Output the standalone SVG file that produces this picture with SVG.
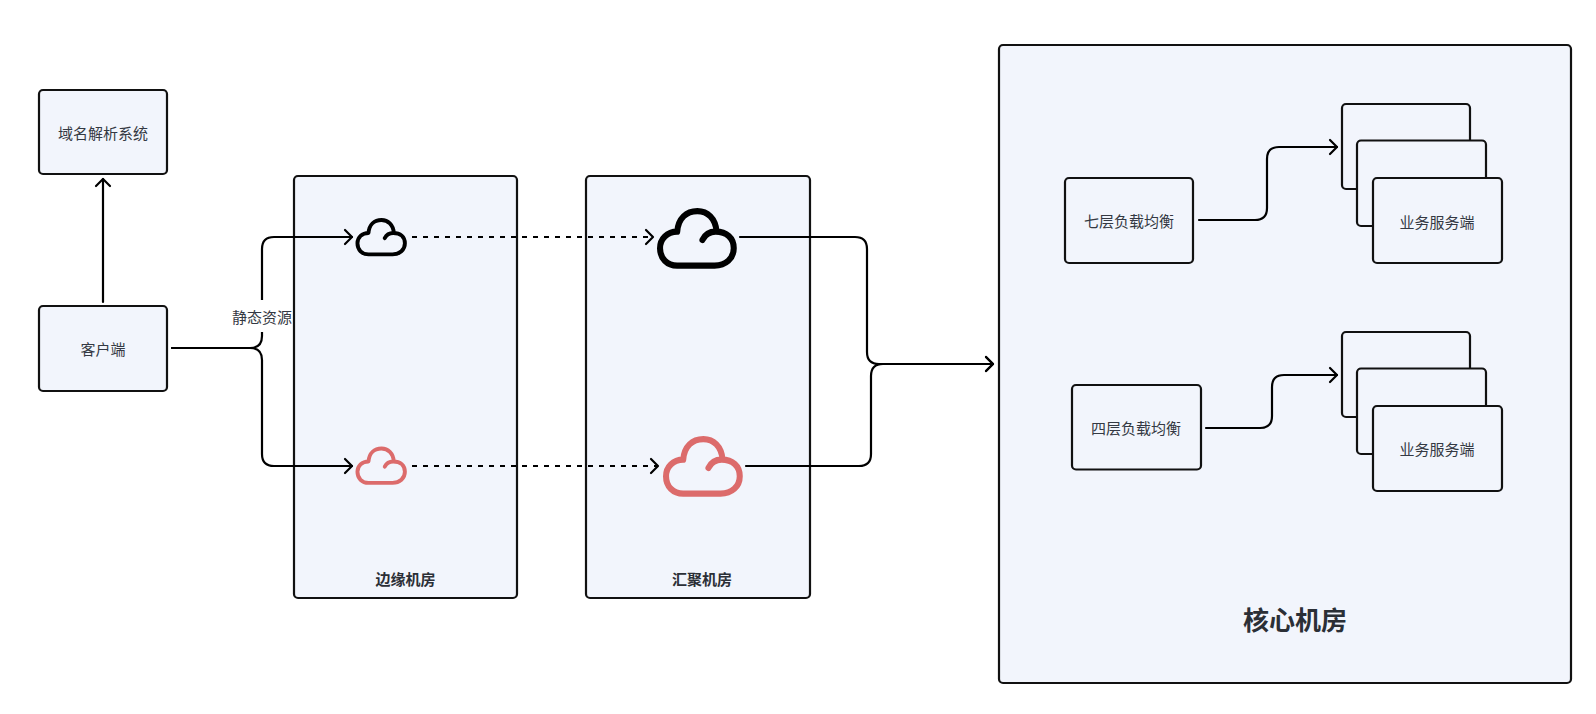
<svg xmlns="http://www.w3.org/2000/svg" width="1596" height="714" viewBox="0 0 1596 714">
<style>
.box{fill:#f2f5fc;stroke:#111;stroke-width:2.2}
text{font-family:"Noto Sans CJK SC","Noto Sans",sans-serif;font-size:15px;fill:#343943;text-anchor:middle;dominant-baseline:central}
.b{font-weight:700;fill:#2b2f36}
.c{fill:none;stroke:#000;stroke-width:2.2;stroke-linecap:round;stroke-linejoin:round}
.d{stroke-dasharray:5 6;stroke-linecap:butt}
.cloud{fill:none;stroke-width:6;stroke-linecap:round;stroke-linejoin:round}
</style>
<defs>
<marker id="a" markerUnits="userSpaceOnUse" markerWidth="16" markerHeight="18" refX="12" refY="9" orient="auto"><path d="M5 2 L12 9 L5 16" fill="none" stroke="#000" stroke-width="2.2" stroke-linecap="round" stroke-linejoin="round"/></marker>
<path id="cl" d="M45 31 C48 25 53 23 58 23 C69 23 76 29 76 39 C76 49 68 56 57 56 L20 56 C10 56 3 49 3 39 C3 30 10 23 20 23 C21 10 29 3 40 3 C50 3 58 10 59 23"/>
</defs>
<rect width="1596" height="714" fill="#fff"/>
<g id="core-room"><rect class="box" x="999" y="45" width="572" height="638" rx="4"/><text class="b" x="1295" y="618" style="font-size:26px">核心机房</text></g>
<g id="edge-room"><rect class="box" x="294" y="176" width="223" height="422" rx="4"/><text class="b" x="405.500" y="578">边缘机房</text></g>
<g id="agg-room"><rect class="box" x="586" y="176" width="224" height="422" rx="4"/><text class="b" x="702" y="578">汇聚机房</text></g>
<g id="dns"><rect class="box" x="39" y="90" width="128" height="84" rx="4"/><text x="103" y="132">域名解析系统</text></g>
<g id="client"><rect class="box" x="39" y="306" width="128" height="85" rx="4"/><text x="103" y="348">客户端</text></g>
<g id="l7"><rect class="box" x="1065" y="178" width="128" height="85" rx="4"/><text x="1129" y="220">七层负载均衡</text></g>
<g id="l4"><rect class="box" x="1072" y="385" width="129" height="84.500" rx="4"/><text x="1136" y="427">四层负载均衡</text></g>
<g id="servers-top"><rect class="box" x="1342" y="104" width="128" height="85" rx="4"/><rect class="box" x="1357" y="140.500" width="129" height="85.500" rx="4"/><rect class="box" x="1373" y="178" width="129" height="85" rx="4"/><text x="1437" y="221">业务服务端</text></g>
<g id="servers-bottom"><rect class="box" x="1342" y="332" width="128" height="85" rx="4"/><rect class="box" x="1357" y="368.500" width="129" height="85.500" rx="4"/><rect class="box" x="1373" y="406" width="129" height="85" rx="4"/><text x="1437" y="448">业务服务端</text></g>
<g id="cloud-edge-black"><use href="#cl" class="cloud" stroke="#000" transform="translate(355.500 218) scale(.65)"/></g>
<g id="cloud-edge-red"><use href="#cl" class="cloud" stroke="#dc6b6b" transform="translate(355.500 446.500) scale(.65)"/></g>
<g id="cloud-agg-black"><use href="#cl" class="cloud" stroke="#000" transform="translate(657 208) scale(1.01 1.03)"/></g>
<g id="cloud-agg-red"><use href="#cl" class="cloud" stroke="#dc6b6b" transform="translate(663 436) scale(1.01 1.03)"/></g>
<g id="connectors">
<path class="c" marker-end="url(#a)" d="M103 302 V179"/>
<path class="c" marker-end="url(#a)" d="M172 348 H250 Q262 348 262 336 V249 Q262 237 274 237 H352"/>
<path class="c" marker-end="url(#a)" d="M172 348 H250 Q262 348 262 360 V454 Q262 466 274 466 H352"/>
<rect x="229" y="300" width="63" height="32" fill="#fff"/>
<text x="262" y="316">静态资源</text>
<path class="c d" marker-end="url(#a)" d="M412 237 H653"/>
<path class="c d" marker-end="url(#a)" d="M412 466 H658"/>
<path class="c" marker-end="url(#a)" d="M740 237 H855 Q867 237 867 249 V352 Q867 364 879 364 H993"/>
<path class="c" marker-end="url(#a)" d="M746 466 H859 Q871 466 871 454 V376 Q871 364 883 364 H993"/>
<path class="c" marker-end="url(#a)" d="M1199 220 H1255 Q1267 220 1267 208 V159 Q1267 147 1279 147 H1337"/>
<path class="c" marker-end="url(#a)" d="M1206 428 H1260 Q1272 428 1272 416 V387 Q1272 375 1284 375 H1337"/>
</g>
</svg>
